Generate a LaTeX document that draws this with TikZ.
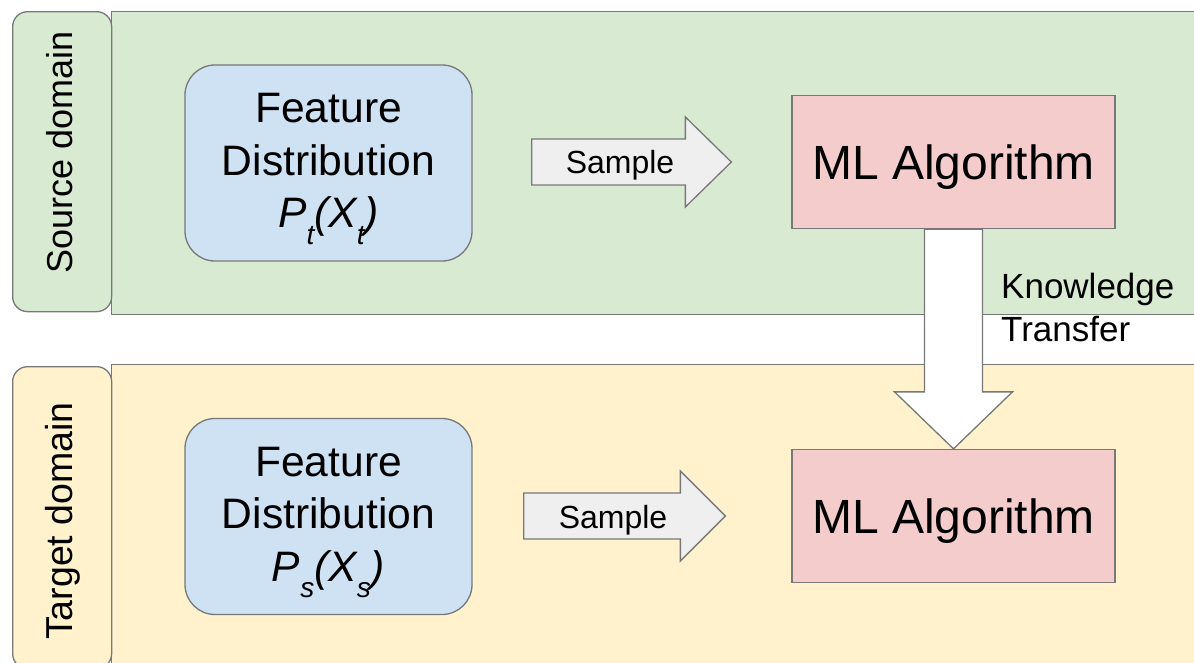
\documentclass[tikz,border=0pt]{standalone}
\usepackage{fontspec}
\setmainfont{Liberation Sans}
\usetikzlibrary{calc}
\definecolor{srcgreen}{HTML}{D9EAD3}
\definecolor{tgtyellow}{HTML}{FFF2CC}
\definecolor{featblue}{HTML}{CFE2F3}
\definecolor{mlred}{HTML}{F4CCCC}
\definecolor{arrowgrey}{HTML}{EFEFEF}
\definecolor{edge}{HTML}{787878}
\newcommand\blockarrowpath[6]{%
  \draw[#6] ($(#1)+(0,-#3)$) -- ($(#2)+(-#5,-#3)$) -- ($(#2)+(-#5,-#4)$) -- (#2)
    -- ($(#2)+(-#5,#4)$) -- ($(#2)+(-#5,#3)$) -- ($(#1)+(0,#3)$) -- cycle;}
\newcommand\lowsub[1]{\raisebox{-0.38em}{\fontsize{28}{28}\selectfont #1}}
\begin{document}
\begin{tikzpicture}[x=1pt,y=-1pt,
  panel/.style={draw=edge, line width=1.3pt, rectangle, anchor=north west, minimum width=1120pt},
  labelbox/.style={draw=edge, line width=1.3pt, rounded corners=15pt, anchor=north west, minimum width=99pt},
  labeltext/.style={rotate=90, font=\fontsize{36}{40}\selectfont},
  featbox/.style={draw=edge, fill=featblue, line width=1.3pt, rounded corners=30pt,
    minimum width=287pt, minimum height=196pt},
  feattext/.style={align=center, inner sep=0pt, font=\fontsize{42.6}{52.5}\selectfont},
  mlbox/.style={draw=edge, fill=mlred, line width=1.3pt, minimum width=323pt, minimum height=133pt,
    text depth=0pt, font=\fontsize{48}{56}\selectfont},
  sampletext/.style={text depth=0pt, font=\fontsize{32}{38}\selectfont},
  blockarrow/.style={draw=edge, fill=arrowgrey, line width=1.3pt},
  transferarrow/.style={draw=edge, fill=white, line width=1.3pt}
]
\clip (0,0) rectangle (1194,662);
\fill[white] (0,0) rectangle (1194,662);
% panels
\node[panel, fill=srcgreen, minimum height=303pt] (srcpanel) at (111,11) {};
\node[panel, fill=tgtyellow, minimum height=320pt] (tgtpanel) at (111,364) {};
\node[labelbox, fill=srcgreen, minimum height=300pt] (srclabel) at (12,11) {};
\node[labelbox, fill=tgtyellow, minimum height=302pt] (tgtlabel) at (12,366) {};
\node[labeltext] (srctext) at (60,152) {Source domain};
\node[labeltext, font=\fontsize{37.5}{42}\selectfont] (tgttext) at (63,521) {Target domain};
% feature boxes
\node[featbox] (feat1) at (328.5,163) {};
\node[feattext] (feat1text) at ($(feat1.center)+(0,6)$) {Feature\\Distribution\\\itshape P\lowsub{t}(X\lowsub{t})};
\node[featbox] (feat2) at (328.5,516.5) {};
\node[feattext] (feat2text) at ($(feat2.center)+(0,6)$) {Feature\\Distribution\\\itshape P\lowsub{s}(X\lowsub{s})};
% ML boxes
\node[mlbox] (ml1) at (953.5,162) {ML Algorithm};
\node[mlbox] (ml2) at (953.5,516) {ML Algorithm};
% sample arrows
\coordinate (a1s) at ($(feat1.east |- ml1.west)+(59,0)$);
\coordinate (a1t) at ($(ml1.west)+(-60,0)$);
\blockarrowpath{a1s}{a1t}{23}{45}{46}{blockarrow}
\node[sampletext] (samp1) at (620,162) {Sample};
\coordinate (a2s) at ($(feat2.east |- ml2.west)+(51,0)$);
\coordinate (a2t) at ($(ml2.west)+(-66,0)$);
\blockarrowpath{a2s}{a2t}{23}{45}{45}{blockarrow}
\node[sampletext] (samp2) at (613,517) {Sample};
% knowledge transfer arrow
\coordinate (ktop) at (ml1.south);
\coordinate (ktip) at (ml2.north);
\draw[transferarrow] ($(ktop)+(-29,0)$) -- ($(ktip)+(-29,-57)$) -- ($(ktip)+(-59,-57)$) -- (ktip)
  -- ($(ktip)+(59,-57)$) -- ($(ktip)+(29,-57)$) -- ($(ktop)+(29,0)$) -- cycle;
\node[anchor=west, align=left, inner sep=0pt, font=\fontsize{35}{43}\selectfont] (ktext) at (1001,307) {Knowledge\\Transfer};
\end{tikzpicture}
\end{document}
